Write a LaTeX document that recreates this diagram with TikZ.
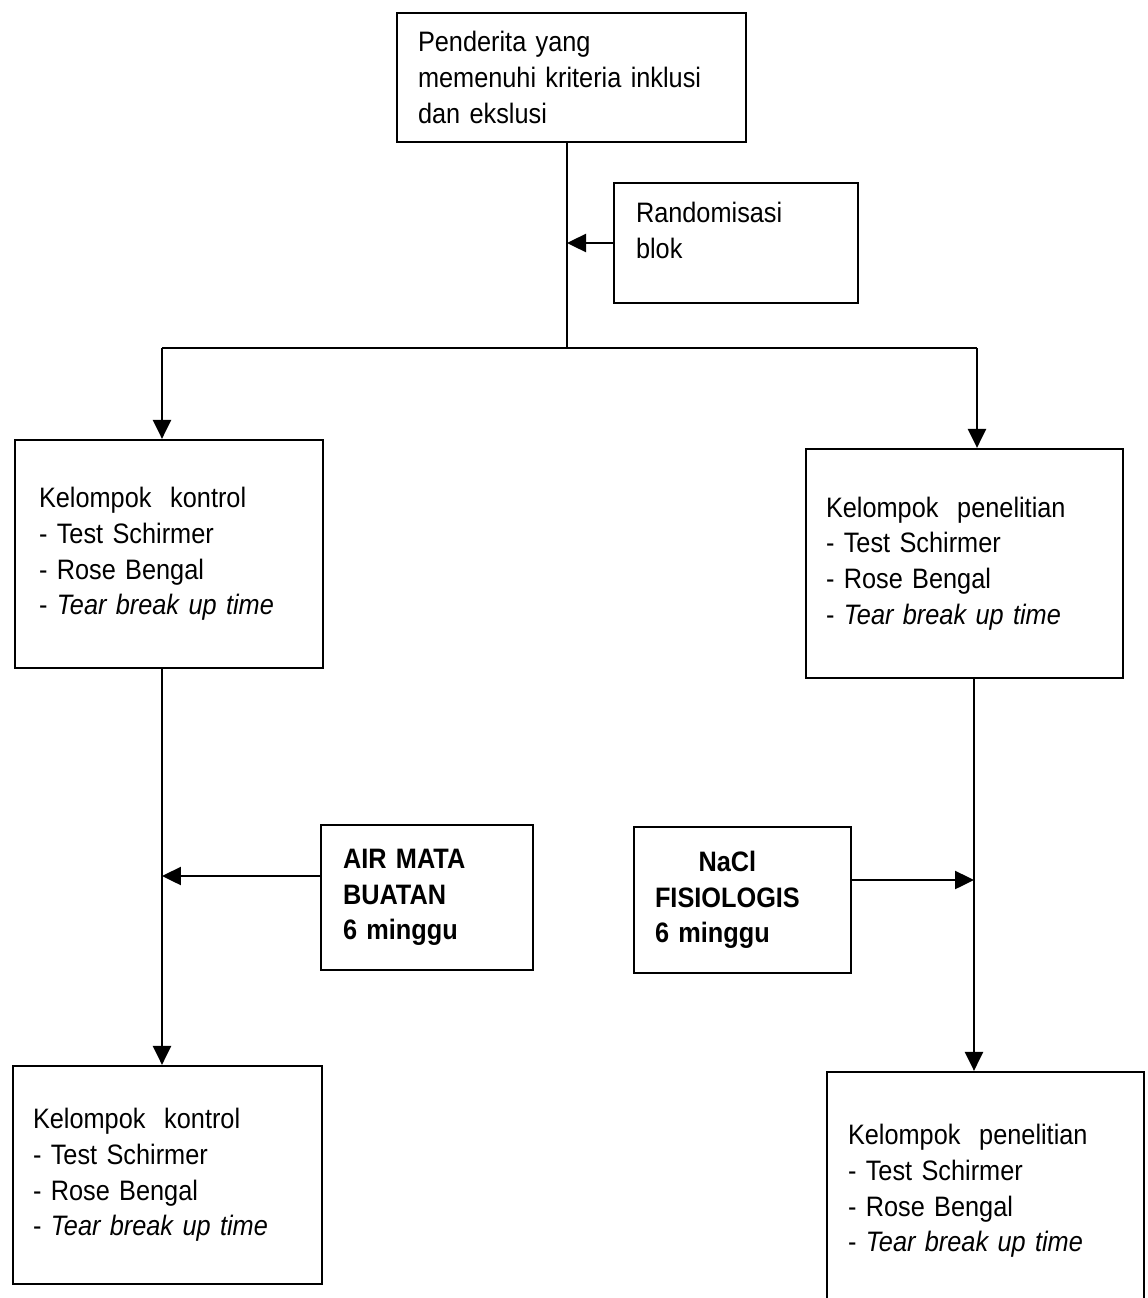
\documentclass[tikz,border=0pt]{standalone}
\usepackage{fontspec}
\usepackage{calc}
\setmainfont[FakeStretch=0.9]{Liberation Sans}
\usetikzlibrary{arrows.meta}
\begin{document}
\begin{tikzpicture}[x=0.02cm,y=-0.02cm,
  box/.style={draw,line width=1.3pt,rectangle,align=left,inner ysep=0pt,
    font=\fontsize{16pt}{20.3pt}\selectfont},
  conn/.style={line width=1.4pt},
  tri/.style={line width=1.4pt,-{Triangle[length=0.38cm,width=0.36cm]}}]
\useasboundingbox (0,0) rectangle (1148,1298);
% boxes
\node[box,minimum width=6.98cm,minimum height=2.58cm,inner xsep=0.42cm,text width=6.14cm] (top) at (571.5,77.5)
  {Penderita yang\\memenuhi kriteria inklusi\\dan ekslusi};
\node[box,minimum width=4.88cm,minimum height=2.4cm,inner xsep=0.44cm,text width=4.0cm] (rand) at (736,243)
  {Randomisasi\\blok\\[-6pt]\mbox{}};
\node[box,minimum width=6.16cm,minimum height=4.56cm,inner xsep=0.48cm,text width=5.2cm] (k1) at (169,554)
  {Kelompok\ \ kontrol\\- Test Schirmer\\- Rose Bengal\\- \textit{Tear break up time}};
\node[box,minimum width=6.34cm,minimum height=4.58cm,inner xsep=0.4cm,text width=5.54cm] (p1) at (964.5,563.5)
  {Kelompok\ \ penelitian\\- Test Schirmer\\- Rose Bengal\\- \textit{Tear break up time}};
\node[box,minimum width=4.24cm,minimum height=2.9cm,inner xsep=0.44cm,text width=3.36cm,
  font=\fontsize{16pt}{20.3pt}\selectfont\bfseries] (air) at (427,897.5)
  {AIR MATA\\BUATAN\\6 minggu};
\node[box,minimum width=4.34cm,minimum height=2.92cm,inner xsep=0.42cm,text width=3.5cm,
  font=\fontsize{16pt}{20.3pt}\selectfont\bfseries] (nacl) at (742.5,900)
  {\makebox[\widthof{FISIOLOGIS}][c]{NaCl}\\FISIOLOGIS\\6 minggu};
\node[box,minimum width=6.18cm,minimum height=4.36cm,inner xsep=0.4cm,text width=5.38cm] (k2) at (167.5,1175)
  {Kelompok\ \ kontrol\\- Test Schirmer\\- Rose Bengal\\- \textit{Tear break up time}};
\node[box,minimum width=6.34cm,minimum height=4.76cm,inner xsep=0.42cm,text width=5.5cm] (p2) at (985.5,1191)
  {Kelompok\ \ penelitian\\- Test Schirmer\\- Rose Bengal\\- \textit{Tear break up time}};
% junction coordinates
\coordinate (j1) at (567,243);
\coordinate (j2) at (567,348);
\coordinate (jl) at (162,348);
\coordinate (jr) at (977,348);
\coordinate (rx) at (974,700);
\coordinate (ay) at (0,876);
\coordinate (ny) at (0,880);
% connectors
\draw[conn] (top.south -| j2) -- (j2);
\draw[tri] (rand.west |- j1) -- (j1);
\draw[conn] (jl) -- (jr);
\draw[tri] (jl) -- (jl |- k1.north);
\draw[tri] (jr) -- (jr |- p1.north);
\draw[tri] (k1.south -| jl) -- (k2.north -| jl);
\draw[tri] (p1.south -| rx) -- (p2.north -| rx);
\draw[tri] (air.west |- ay) -- (jl |- ay);
\draw[tri] (nacl.east |- ny) -- (rx |- ny);
\end{tikzpicture}
\end{document}
